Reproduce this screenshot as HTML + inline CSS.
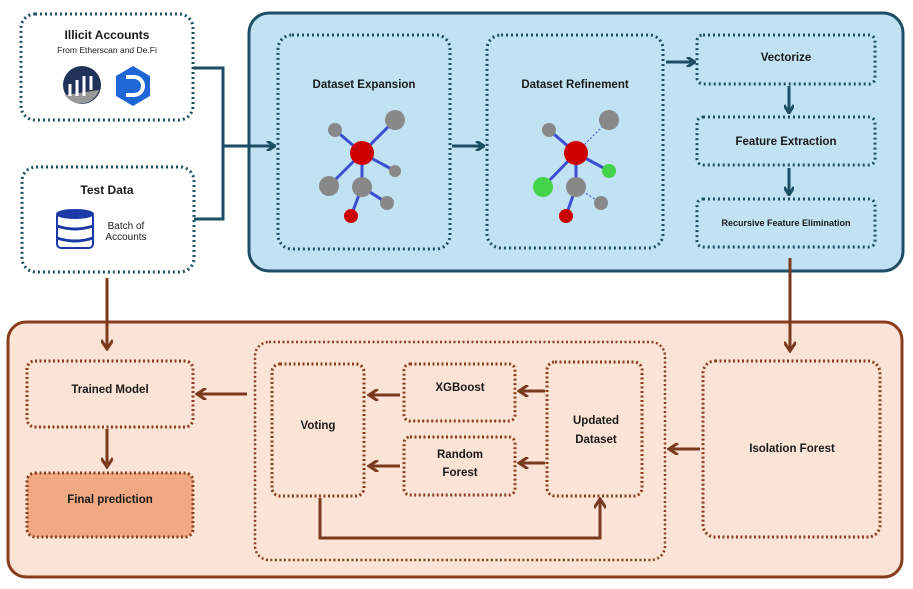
<!DOCTYPE html>
<html><head><style>body{margin:0;background:#fff}svg{display:block}text{font-family:"Liberation Sans",sans-serif;font-weight:bold;fill:#1a1a1a}text.n{font-weight:normal}</style></head><body>
<svg width="913" height="589" viewBox="0 0 913 589" xmlns="http://www.w3.org/2000/svg">
<defs>
<marker id="ab" markerWidth="10" markerHeight="10" refX="8" refY="5" orient="auto" markerUnits="userSpaceOnUse"><path d="M1,0 L9,5 L1,10" fill="none" stroke="#1d4e63" stroke-width="3"/></marker>
<marker id="ar" markerWidth="12" markerHeight="12" refX="9" refY="6" orient="auto" markerUnits="userSpaceOnUse"><path d="M1,0 L10,6 L1,12" fill="none" stroke="#7a3a1e" stroke-width="3"/></marker>
</defs>
<g fill="none" stroke="#1d4e63" stroke-width="3" stroke-dasharray="2 3">
<rect x="21" y="14" width="172" height="106" rx="14" fill="#fff"/>
<rect x="22" y="167" width="172" height="105" rx="14" fill="#fff"/>
</g>
<rect x="249" y="13" width="654" height="258" rx="20" fill="#c0e2f3" stroke="#1d4e63" stroke-width="3"/>
<g fill="none" stroke="#1d4e63" stroke-width="3" stroke-dasharray="2 3">
<rect x="278" y="35" width="172" height="214" rx="14"/>
<rect x="487" y="35" width="176" height="213" rx="14"/>
<rect x="697" y="35" width="178" height="49" rx="6"/>
<rect x="697" y="117" width="178" height="48" rx="6"/>
<rect x="697" y="199" width="178" height="48" rx="6"/>
</g>
<text x="107" y="39" font-size="12" text-anchor="middle">Illicit Accounts</text>
<text x="107" y="53" font-size="8.5" text-anchor="middle" class="n">From Etherscan and De.Fi</text>
<circle cx="82" cy="85" r="19" fill="#21325b"/>
<path d="M65,95 A19,19 0 0 0 99,90 Z" fill="#999"/>
<path d="M70,96 v-12 M77,96 v-16 M84,96 v-20 M91,90 v-14" stroke="#fff" stroke-width="3"/>
<polygon points="133,66 150,76 150,96 133,106 116,96 116,76" fill="#1e66d6"/>
<path d="M126,77 h8 a9,9 0 0 1 0,18 h-8" stroke="#fff" stroke-width="4" fill="none"/>
<text x="107" y="194" font-size="12" text-anchor="middle">Test Data</text>
<g fill="#fff" stroke="#1a3aa8" stroke-width="2"><rect x="57" y="212" width="36" height="36" rx="4"/><ellipse cx="75" cy="214" rx="18" ry="4" fill="#1a3aa8"/><path d="M57,226 q18,6 36,0 M57,238 q18,6 36,0" stroke-width="3" fill="none"/></g>
<text x="126" y="229" font-size="10" class="n" text-anchor="middle">Batch of</text>
<text x="126" y="240" font-size="10" class="n" text-anchor="middle">Accounts</text>
<g stroke="#1d4e63" stroke-width="3" fill="none">
<path d="M193,68 H223 V219 H194"/>
<path d="M223,146 H274" marker-end="url(#ab)"/>
<path d="M452,146 H483" marker-end="url(#ab)"/>
<path d="M666,62 H694" marker-end="url(#ab)"/>
<path d="M789,86 V112" marker-end="url(#ab)"/>
<path d="M789,168 V194" marker-end="url(#ab)"/>
</g>
<text x="364" y="88" font-size="11.5" text-anchor="middle">Dataset Expansion</text>
<text x="575" y="88" font-size="11.5" text-anchor="middle">Dataset Refinement</text>
<text x="786" y="61" font-size="11.5" text-anchor="middle">Vectorize</text>
<text x="786" y="145" font-size="11.5" text-anchor="middle">Feature Extraction</text>
<text x="786" y="226" font-size="9" text-anchor="middle">Recursive Feature Elimination</text>
<g stroke="#3b4fd0" stroke-width="3" fill="none">
<path d="M362,153 L335,130 M362,153 L395,120 M362,153 L395,171 M362,153 L329,186 M362,153 L362,187 L387,203 M362,187 L351,216"/>
<path d="M576,153 L549,130 M576,153 L609,171 M576,153 L543,187 M576,153 L576,187 M576,187 L566,216"/>
<path d="M576,153 L609,120 M576,187 L601,203" stroke-width="1" stroke-dasharray="2 2"/>
</g>
<g fill="#888"><circle cx="335" cy="130" r="7"/><circle cx="395" cy="120" r="10"/><circle cx="395" cy="171" r="6"/><circle cx="329" cy="186" r="10"/><circle cx="362" cy="187" r="10"/><circle cx="387" cy="203" r="7"/>
<circle cx="549" cy="130" r="7"/><circle cx="609" cy="120" r="10"/><circle cx="576" cy="187" r="10"/><circle cx="601" cy="203" r="7"/></g>
<g fill="#cc0000"><circle cx="362" cy="153" r="12"/><circle cx="351" cy="216" r="7"/><circle cx="576" cy="153" r="12"/><circle cx="566" cy="216" r="7"/></g>
<g fill="#44d44a"><circle cx="609" cy="171" r="7"/><circle cx="543" cy="187" r="10"/></g>
<rect x="8" y="322" width="894" height="255" rx="18" fill="#fbe3d6" stroke="#8a3d1d" stroke-width="3"/>
<g fill="none" stroke="#8a3d1d" stroke-width="3" stroke-dasharray="2 2.5">
<rect x="27" y="361" width="166" height="66" rx="8"/>
<rect x="27" y="473" width="166" height="64" rx="8" fill="#f1a983"/>
<rect x="255" y="342" width="410" height="218" rx="14" stroke-width="2.5"/>
<rect x="272" y="364" width="92" height="132" rx="8"/>
<rect x="404" y="364" width="111" height="57" rx="6"/>
<rect x="404" y="437" width="111" height="58" rx="6"/>
<rect x="547" y="362" width="95" height="134" rx="8"/>
<rect x="703" y="361" width="177" height="176" rx="12"/>
</g>
<g stroke="#7a3a1e" stroke-width="3" fill="none">
<path d="M107,278 V348" marker-end="url(#ar)"/>
<path d="M790,258 V350" marker-end="url(#ar)"/>
<path d="M247,394 H198" marker-end="url(#ar)"/>
<path d="M400,395 H370" marker-end="url(#ar)"/>
<path d="M400,466 H370" marker-end="url(#ar)"/>
<path d="M545,391 H520" marker-end="url(#ar)"/>
<path d="M545,463 H520" marker-end="url(#ar)"/>
<path d="M700,449 H670" marker-end="url(#ar)"/>
<path d="M107,429 V466" marker-end="url(#ar)"/>
<path d="M320,498 V538 H600 V500" marker-end="url(#ar)"/>
</g>
<text x="110" y="393" font-size="11.5" text-anchor="middle">Trained Model</text>
<text x="110" y="503" font-size="11.5" text-anchor="middle">Final prediction</text>
<text x="318" y="429" font-size="11.5" text-anchor="middle">Voting</text>
<text x="460" y="391" font-size="11.5" text-anchor="middle">XGBoost</text>
<text x="460" y="458" font-size="11.5" text-anchor="middle">Random</text>
<text x="460" y="476" font-size="11.5" text-anchor="middle">Forest</text>
<text x="596" y="424" font-size="11.5" text-anchor="middle">Updated</text>
<text x="596" y="443" font-size="11.5" text-anchor="middle">Dataset</text>
<text x="792" y="452" font-size="11.5" text-anchor="middle">Isolation Forest</text>
</svg>
</body></html>
